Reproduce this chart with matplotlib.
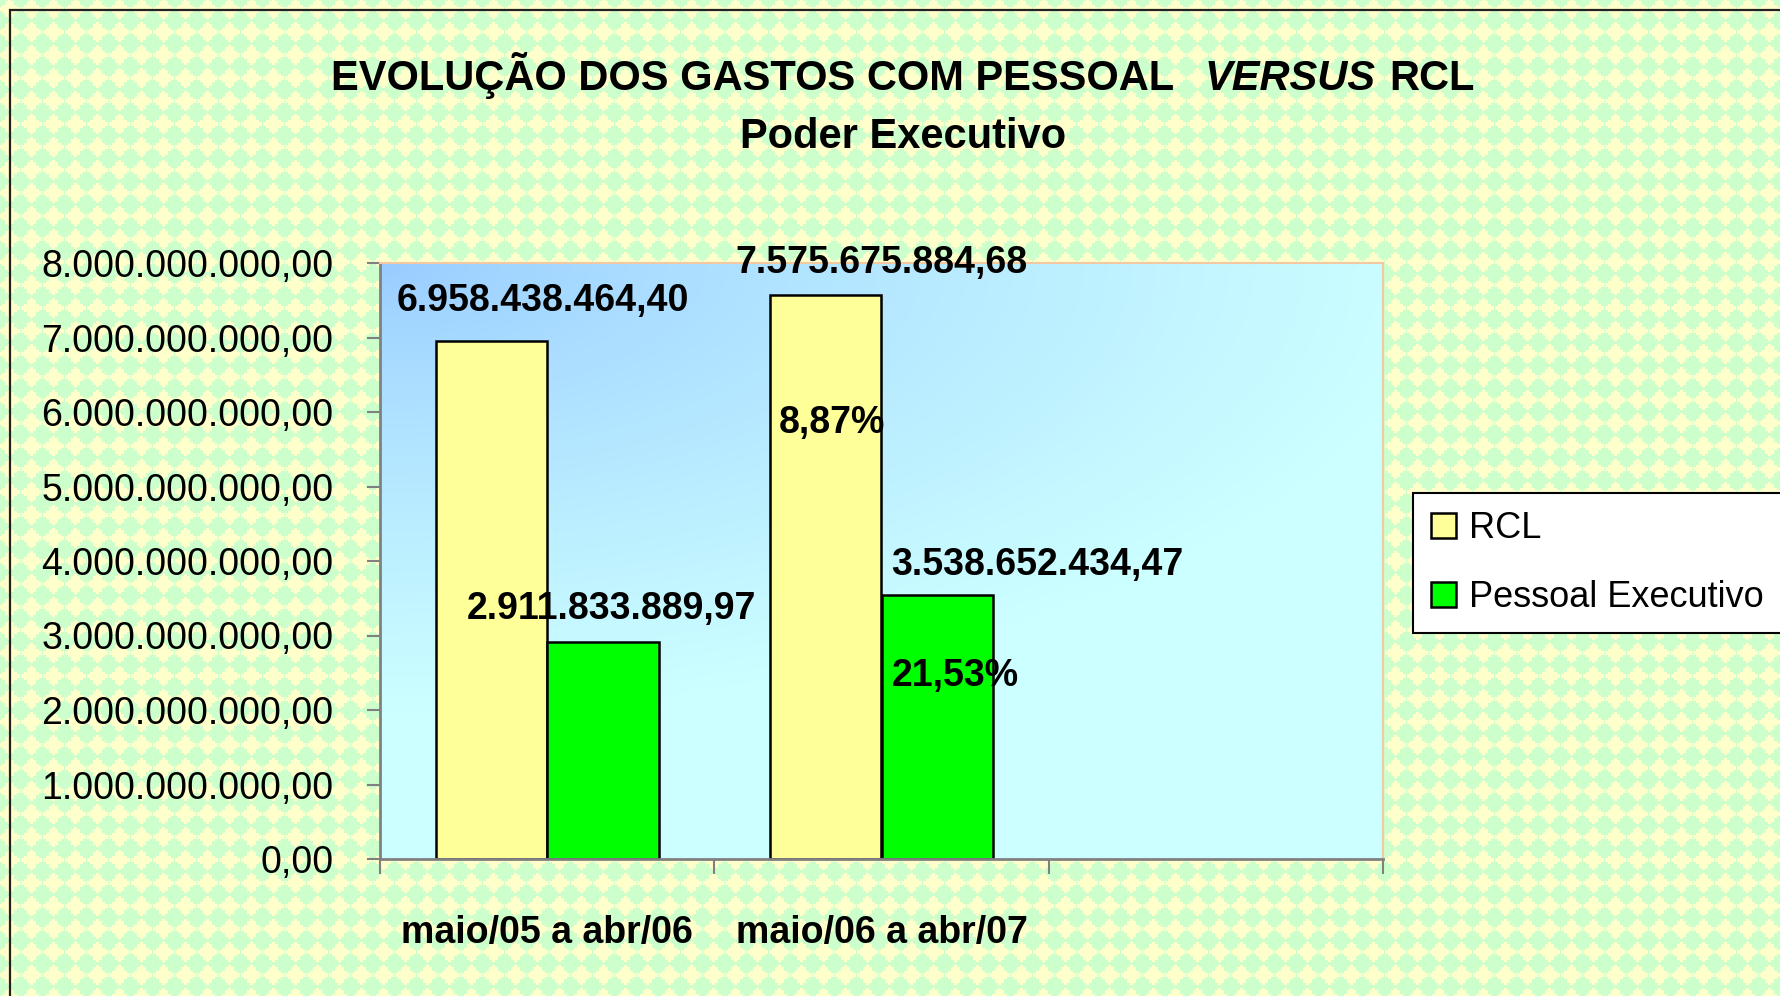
import numpy as np
import matplotlib
matplotlib.use("Agg")
import matplotlib.pyplot as plt
from matplotlib.patches import Rectangle

plt.rcParams['font.family'] = ['Liberation Sans', 'DejaVu Sans']

# dados do gráfico
periodos = ["maio/05 a abr/06", "maio/06 a abr/07"]
rcl = [6958438464.40, 7575675884.68]
pessoal = [2911833889.97, 3538652434.47]
series = ["RCL", "Pessoal Executivo"]
yticks = np.arange(0, 8e9 + 1, 1e9)


def brl(v, pos=None):
    return f"{v:,.2f}".replace(",", "X").replace(".", ",").replace("X", ".")


def pct(a, b):
    return f"{(b / a - 1) * 100:.2f}%".replace(".", ",")


W, H = 1780, 996
fig = plt.figure(figsize=(W / 100, H / 100), dpi=100)
fig.patch.set_facecolor('#CCFFCC')

# fundo com losangos (padrão do Excel)
yy, xx = np.mgrid[0:H, 0:W]
dx = ((xx - 20) % 22) - 11
dy = ((yy - 20) % 23) - 11.5
dx = np.round(dx / 3) * 3
dy = np.round(dy / 3) * 3
mask = np.abs(dx) / 9.5 + np.abs(dy) / 10.5 <= 1
green = np.array([0xCC, 0xFF, 0xCC]) / 255
yellow = np.array([0xFF, 0xFF, 0xCC]) / 255
bg = np.where(mask[..., None], yellow, green)
fig.figimage(bg, xo=0, yo=0, origin='upper', zorder=-10)

fig.add_artist(Rectangle((10 / W, -0.05), 1.1, 1 - 10 / H + 0.05,
                         transform=fig.transFigure, fill=False,
                         ec='#222222', lw=1.6, zorder=-5))

ax = fig.add_axes([380 / W, 1 - 859 / H, (1383 - 380) / W, (859 - 263) / H])
ax.set_facecolor('none')

# gradiente da área de plotagem
gu, gv = np.meshgrid(np.linspace(0, 1, 300), np.linspace(0, 1, 200))
t = np.clip(np.sqrt((gu / 1.05) ** 2 + (gv / 0.75) ** 2), 0, 1) ** 0.8
c0 = np.array([0x99, 0xCC, 0xFF]) / 255
c1 = np.array([0xCC, 0xFF, 0xFF]) / 255
grad = c0 + (c1 - c0) * t[..., None]
n_slots = 3
ax.imshow(grad, extent=[0, n_slots, 0, 8e9], aspect='auto', origin='upper', zorder=0)

x = np.arange(len(periodos)) + 0.5
w = 1 / 3
b1 = ax.bar(x - w / 2, rcl, w, color='#FFFF99', edgecolor='black', lw=1.8,
            label=series[0], zorder=2)
b2 = ax.bar(x + w / 2, pessoal, w, color='#00FF00', edgecolor='black', lw=1.8,
            label=series[1], zorder=2)

ax.set_xlim(0, n_slots)
ax.set_ylim(0, 8e9)

# rótulos de valores
lab_kw = dict(ha='center', va='center', fontsize=27, fontweight='bold', zorder=5)
ax.text(x[0] - w / 2 + 0.155, rcl[0] + 0.53e9, brl(rcl[0]), **lab_kw)
ax.text(x[1] - w / 2 + 0.167, rcl[1] + 0.42e9, brl(rcl[1]), **lab_kw)
ax.text(x[0] + w / 2 + 0.027, pessoal[0] + 0.45e9, brl(pessoal[0]), **lab_kw)
ax.text(x[1] + w / 2 + 0.30, pessoal[1] + 0.41e9, brl(pessoal[1]), **lab_kw)
ax.text(x[1] - w / 2 + 0.017, 5.85e9, pct(rcl[0], rcl[1]), **lab_kw)
ax.text(x[1] + w / 2 + 0.053, 2.46e9, pct(pessoal[0], pessoal[1]), **lab_kw)

# eixos
ax.set_yticks(yticks)
ax.yaxis.set_major_formatter(plt.FuncFormatter(brl))
ax.tick_params(axis='y', direction='out', length=9.5, width=1.5, color='#808080',
               labelsize=27, pad=24)
ax.set_xticks(np.arange(n_slots + 1))
ax.set_xticklabels([])
ax.set_xticks(np.arange(n_slots) + 0.5, minor=True)
ax.set_xticklabels(periodos + [""], minor=True, fontsize=27, fontweight='bold')
ax.tick_params(axis='x', which='major', direction='out', length=11, width=1.5,
               color='#808080')
ax.tick_params(axis='x', which='minor', length=0, pad=40)
for s in ['left', 'bottom']:
    ax.spines[s].set_color('#808080')
    ax.spines[s].set_linewidth(2)
for s in ['top', 'right']:
    ax.spines[s].set_color('#F2C9A0')
    ax.spines[s].set_linewidth(1.5)

leg = ax.legend(loc='upper left', bbox_to_anchor=(1413 / W, 1 - 493 / H),
                bbox_transform=fig.transFigure, fontsize=26, fancybox=False,
                edgecolor='black', facecolor='white', framealpha=1,
                handlelength=0.7, handleheight=0.7, handletextpad=0.35,
                labelspacing=0.95, borderpad=0.5, borderaxespad=0)
leg.get_frame().set_linewidth(1.5)

# título (com "VERSUS" em itálico)
ty = 1 - 90 / H
t1 = fig.text(0, ty, "EVOLUÇÃO DOS GASTOS COM PESSOAL", fontsize=30,
              fontweight='bold', va='baseline')
t2 = fig.text(0, ty, "VERSUS", fontsize=30, fontweight='bold', style='italic',
              va='baseline')
t3 = fig.text(0, ty, "RCL", fontsize=30, fontweight='bold', va='baseline')
fig.canvas.draw()
r = fig.canvas.get_renderer()
ws = [tt.get_window_extent(r).width for tt in (t1, t2, t3)]
gaps = [30, 14]
total = sum(ws) + sum(gaps)
x0 = 903 - total / 2
t1.set_x(x0 / W)
t2.set_x((x0 + ws[0] + gaps[0]) / W)
t3.set_x((x0 + ws[0] + gaps[0] + ws[1] + gaps[1]) / W)
fig.text(903 / W, 1 - 148 / H, "Poder Executivo", fontsize=30,
         fontweight='bold', ha='center', va='baseline')

fig.savefig("out.png", dpi=100)
